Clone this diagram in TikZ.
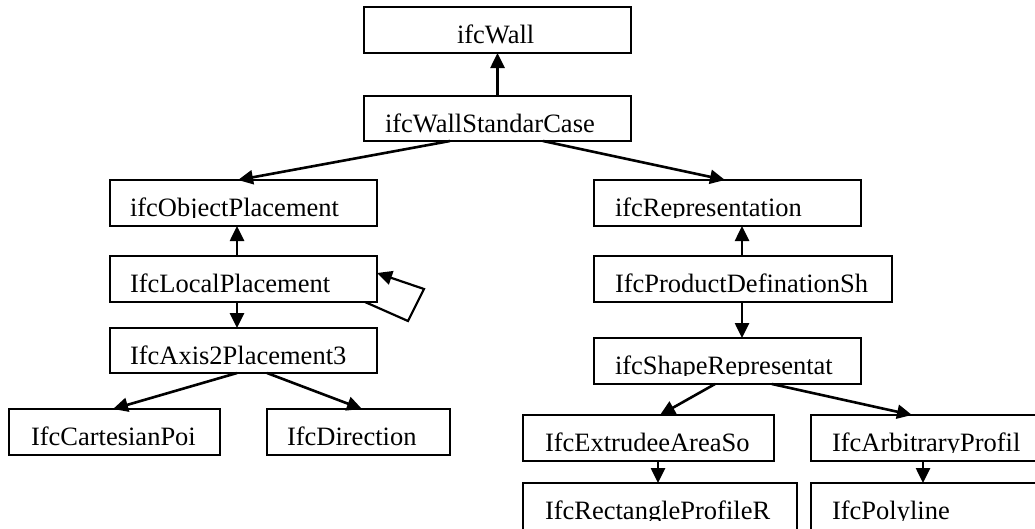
\documentclass[tikz,border=0pt]{standalone}
\usepackage{fontspec}
\setmainfont{Liberation Serif}
\usetikzlibrary{arrows.meta,calc}
\newcommand\boxfont{\fontsize{26.5}{30}\selectfont}
\tikzset{
  ibox/.style={draw, line width=1.6pt, inner sep=0pt, outer sep=0pt, anchor=north west},
  itext/.style={draw=none, anchor=base west, inner sep=0pt, outer sep=0pt, minimum width=0pt, minimum height=0pt, font=\boxfont},
  arr/.style={line width=2.6pt, -{Triangle[length=15pt,width=14pt]}},
}
% name, left, top, width, height, text inset, text
\newcommand\mybox[7]{%
  \node[ibox, minimum width=#4pt, minimum height=#5pt,
    path picture={
      \clip ([yshift=1pt]path picture bounding box.north west) rectangle ([yshift=-37pt]path picture bounding box.north east);
      \node[itext] at ([xshift=#6pt,yshift=-36pt]path picture bounding box.north west) {#7};
    }] (#1) at (#2,#3) {};%
}
\begin{document}
\begin{tikzpicture}[x=1pt,y=-1pt]
\useasboundingbox (0,0) rectangle (1035,528);
\fill[white] (0,0) rectangle (1035,528);
\clip (0,0) rectangle (1035,528);

\mybox{wall}{364}{7}{267}{46}{93}{ifcWall}
\mybox{wsc}{364}{96}{267}{45}{21}{ifcWallStandarCase}
\mybox{obj}{110}{180}{267}{46}{20}{ifcObjectPlacement}
\mybox{rep}{594}{180}{267}{46}{21}{ifcRepresentation}
\mybox{loc}{110}{256}{267}{46}{20}{IfcLocalPlacement}
\mybox{prod}{594}{256}{298}{46}{21}{IfcProductDefinationSh}
\mybox{axis}{110}{328}{267}{45}{20}{IfcAxis2Placement3}
\mybox{shape}{594}{338}{267}{46}{21}{ifcShapeRepresentat}
\mybox{cart}{9}{409}{211}{46}{22}{IfcCartesianPoi}
\mybox{dir}{267}{409}{183}{46}{20}{IfcDirection}
\mybox{extr}{523}{415}{251}{46}{22}{IfcExtrudeeAreaSo}
\mybox{arb}{811}{415}{240}{46}{21}{IfcArbitraryProfil}
\mybox{rect}{523}{483}{274}{60}{22}{IfcRectangleProfileR}
\mybox{poly}{811}{483}{240}{60}{21}{IfcPolyline}

\draw[arr] (wsc.north) -- (wall.south);
\draw[arr] ($(wsc.south west)+(86,0)$) -- ($(obj.north west)+(128,0)$);
\draw[arr] ($(wsc.south west)+(179,0)$) -- ($(rep.north west)+(131,0)$);
\draw[arr] ($(loc.north west)+(127,0)$) -- ($(obj.south west)+(127,0)$);
\draw[arr] ($(loc.south west)+(127,0)$) -- ($(axis.north west)+(127,0)$);
\draw[arr, line width=2.2pt] ($(loc.south east)+(-12,0)$) -- ($(loc.south east)+(31,19)$)
   -- ($(loc.south east)+(47,-13)$) -- ($(loc.north east)+(0,17)$);
\draw[arr] ($(axis.south west)+(127,0)$) -- ($(cart.north west)+(104,0)$);
\draw[arr] ($(axis.south west)+(157,0)$) -- ($(dir.north west)+(95,0)$);
\draw[arr] ($(prod.north west)+(148,0)$) -- ($(rep.south west)+(148,0)$);
\draw[arr] ($(prod.south west)+(148,0)$) -- ($(shape.north west)+(148,0)$);
\draw[arr] ($(shape.south west)+(121,0)$) -- ($(extr.north west)+(137,0)$);
\draw[arr] ($(shape.south west)+(178,0)$) -- ($(arb.north west)+(101,0)$);
\draw[arr] ($(extr.south west)+(135,0)$) -- ($(rect.north west)+(135,0)$);
\draw[arr] ($(arb.south west)+(112,0)$) -- ($(poly.north west)+(112,0)$);
\end{tikzpicture}
\end{document}
